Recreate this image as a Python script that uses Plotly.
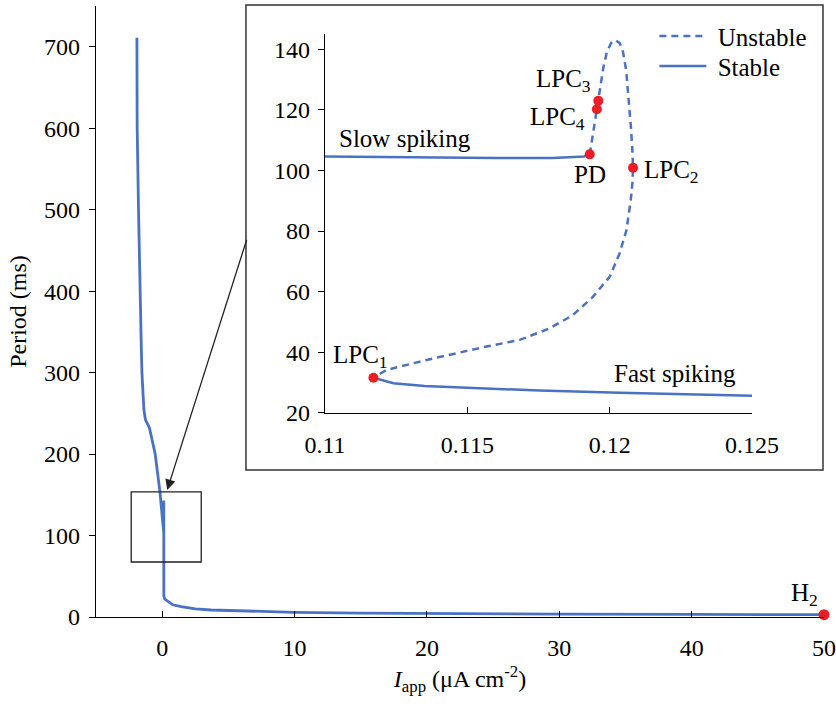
import plotly.graph_objects as go

# ---------------- data ----------------
# main curve: approach from low current (slow spiking, long period)
approach_I = [-1.91, -1.89, -1.79, -1.69, -1.59, -1.53, -1.46, -1.38, -1.26, -0.96, -0.53, -0.17, 0.05, 0.10]
approach_T = [711, 601, 501, 402, 340, 300, 271, 254, 242, 232, 200, 154, 115, 106]

# inset: stable slow spiking branch
slow_I = [0.11, 0.112, 0.114, 0.116, 0.118, 0.1188, 0.1191, 0.1193]
slow_T = [104.6, 104.4, 104.2, 104.1, 104.1, 104.3, 104.6, 105.3]

# inset: unstable branch (PD -> LPC3/4 -> top -> LPC2 -> LPC1)
unst_I = [0.1193, 0.11942, 0.11955, 0.1196, 0.11968, 0.11978, 0.1199, 0.12005, 0.1202, 0.12035,
          0.12047, 0.12058, 0.12066, 0.12074, 0.12079, 0.12082, 0.1208, 0.12074, 0.12059, 0.12035,
          0.12, 0.11941, 0.11871, 0.11789, 0.11684, 0.11567, 0.11357, 0.11216, 0.1117]
unst_T = [105.3, 113, 120.2, 123.0, 128, 134, 139, 142, 143, 142,
          139, 133, 125, 115, 108, 100.9, 96, 90.2, 80.3, 72.7,
          64.9, 58.3, 52.3, 47.9, 44.1, 41.9, 37.5, 34.2, 31.6]

# inset: stable fast spiking branch
fast_I = [0.1117, 0.1124, 0.1135, 0.1152, 0.11754, 0.12035, 0.1225, 0.125]
fast_T = [31.6, 29.8, 28.9, 28.3, 27.4, 26.7, 26.2, 25.7]

# main curve: fast spiking tail up to H2
tail_I = [0.2, 0.43, 0.8, 1.43, 2.5, 3.7, 6.7, 10, 15, 20, 30, 40, 50]
tail_T = [22, 19, 15, 12.7, 10, 8.6, 6.8, 5.7, 4.8, 4.2, 3.6, 3.2, 2.8]

# special points
lpc_I = [0.1117, 0.12082, 0.1196, 0.11955]
lpc_T = [31.6, 100.9, 123.0, 120.2]
pd_I, pd_T = [0.1193], [105.3]
h2_I, h2_T = [50], [2.8]

main_ticks_x = [0, 10, 20, 30, 40, 50]
main_ticks_y = [0, 100, 200, 300, 400, 500, 600, 700]
inset_ticks_x = [0.11, 0.115, 0.12, 0.125]
inset_ticks_x_text = ["0.11", "0.115", "0.12", "0.125"]
inset_ticks_y = [20, 40, 60, 80, 100, 120, 140]

# ---------------- style ----------------
BLUE = "#4a72c4"
RED = "#ee1c25"
FONT = "Liberation Serif"
FS = 24
FS_LAB = 25

main_I = approach_I + slow_I + unst_I[1:] + fast_I[1:] + tail_I
main_T = approach_T + slow_T + unst_T[1:] + fast_T[1:] + tail_T

fig = go.Figure()

fig.add_trace(go.Scatter(x=main_I, y=main_T, mode="lines", line=dict(color=BLUE, width=2.8),
                         showlegend=False, xaxis="x", yaxis="y"))
fig.add_trace(go.Scatter(x=h2_I, y=h2_T, mode="markers", marker=dict(color=RED, size=11),
                         showlegend=False, xaxis="x", yaxis="y", cliponaxis=False))

# inset
fig.add_trace(go.Scatter(x=unst_I, y=unst_T, mode="lines", name="\u00a0Unstable",
                         line=dict(color=BLUE, width=2.5, dash="7px,5px"),
                         xaxis="x2", yaxis="y2", legend="legend"))
fig.add_trace(go.Scatter(x=slow_I, y=slow_T, mode="lines", name="\u00a0Stable",
                         line=dict(color=BLUE, width=2.5),
                         xaxis="x2", yaxis="y2", legend="legend2"))
fig.add_trace(go.Scatter(x=fast_I, y=fast_T, mode="lines", name="Stable",
                         line=dict(color=BLUE, width=2.5), showlegend=False,
                         xaxis="x2", yaxis="y2"))
fig.add_trace(go.Scatter(x=lpc_I + pd_I, y=lpc_T + pd_T, mode="markers",
                         marker=dict(color=RED, size=10), showlegend=False,
                         xaxis="x2", yaxis="y2", cliponaxis=False))

axis_common = dict(showgrid=False, zeroline=False, showline=True, linecolor="black",
                   linewidth=1.3, tickcolor="black", ticklen=6, tickwidth=1.2, automargin=False,
                   tickfont=dict(family=FONT, size=FS, color="black"))

leg_common = dict(xanchor="left", yanchor="top", bgcolor="rgba(0,0,0,0)",
                  font=dict(family=FONT, size=FS_LAB, color="black"), itemwidth=47)

fig.update_layout(
    width=836, height=707,
    margin=dict(l=96, r=12, t=6, b=90, autoexpand=False),
    paper_bgcolor="white", plot_bgcolor="rgba(0,0,0,0)",
    font=dict(family=FONT, size=FS, color="black"),
    xaxis=dict(axis_common, range=[-5, 50], tickvals=main_ticks_x, ticks="inside",
               domain=[0, 1], anchor="y", ticklabelstandoff=9,
               title=dict(text="<i>I</i><sub>app</sub> (μA cm<sup>-2</sup>)",
                          font=dict(family=FONT, size=FS), standoff=10)),
    yaxis=dict(axis_common, range=[0, 750], tickvals=main_ticks_y, ticks="outside",
               domain=[0, 1], anchor="x", ticklabelstandoff=4,
               title=dict(text="Period (ms)", font=dict(family=FONT, size=FS), standoff=10)),
    xaxis2=dict(axis_common, range=[0.11, 0.125], tickvals=inset_ticks_x,
                ticktext=inset_ticks_x_text, ticks="inside",
                domain=[0.3146, 0.9011], anchor="y2", ticklabelstandoff=10),
    yaxis2=dict(axis_common, range=[20, 145], tickvals=inset_ticks_y, ticks="outside",
                domain=[0.3339, 0.9542], anchor="x2", ticklabelstandoff=3),
    legend=dict(leg_common, x=0.767, y=0.988),
    legend2=dict(leg_common, x=0.767, y=0.939),
    shapes=[
        dict(type="rect", xref="paper", yref="paper", x0=0.206, x1=0.9986, y0=0.2406, y1=1.0016,
             line=dict(color="#333", width=1.5), fillcolor="white", layer="below"),
        dict(type="rect", xref="x", yref="y", x0=-2.34, x1=2.95, y0=67.5, y1=153.5,
             line=dict(color="#222", width=1.3), layer="above"),
    ],
)

ann = []
ann.append(dict(x=0.38, y=156, xref="x", yref="y", ax=6.42, ay=465, axref="x", ayref="y",
                showarrow=True, arrowhead=2, arrowsize=1.6, arrowwidth=1.3, arrowcolor="#222",
                standoff=0, text=""))
def lab(text, x, y, xa="center", ya="middle", xr="x2", yr="y2"):
    ann.append(dict(text=text, x=x, y=y, xref=xr, yref=yr, xanchor=xa, yanchor=ya,
                    showarrow=False, font=dict(family=FONT, size=FS_LAB, color="black")))

lab("Slow spiking", 0.11041, 110.5, xa="left")
lab("Fast spiking", 0.1245, 33, xa="right")
lab("LPC<sub>1</sub>", 0.11022, 38.5, xa="left")
lab("LPC<sub>2</sub>", 0.12115, 99.5, xa="left")
lab("LPC<sub>3</sub>", 0.1194, 129.5, xa="right")
lab("LPC<sub>4</sub>", 0.11919, 117.2, xa="right")
lab("PD", 0.1193, 98.5)
lab("H<sub>2</sub>", 48.5, 28, xr="x", yr="y")
fig.update_layout(annotations=ann)

fig.write_html("out.html")
